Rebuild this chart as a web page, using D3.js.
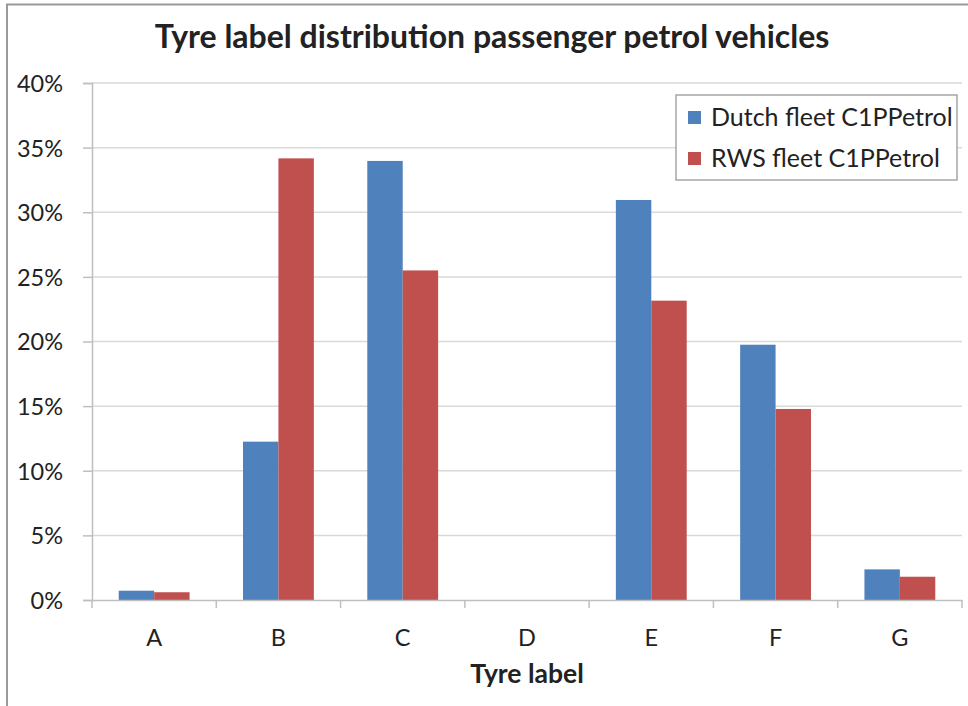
<!DOCTYPE html>
<html>
<head>
<meta charset="utf-8">
<script src="https://cdn.jsdelivr.net/npm/d3@7"></script>
<style>
  body { margin: 0; background: #fff; }
  text { font-family: Lato, "Open Sans", sans-serif; fill: #222; }
</style>
</head>
<body>
<svg id="chart" width="968" height="706"></svg>
<script>
// tyre label categories and the two fleets (share, %)
var categories = ["A", "B", "C", "D", "E", "F", "G"];
var dutch_fleet = [0.72, 12.25, 33.97, 0, 30.95, 19.75, 2.37];
var rws_fleet = [0.6, 34.17, 25.5, 0, 23.16, 14.78, 1.8];
var series_names = ["Dutch fleet C1PPetrol", "RWS fleet C1PPetrol"];
var series_colors = ["#4f81bd", "#c0504d"];
var y_ticks = [0, 5, 10, 15, 20, 25, 30, 35, 40];

var svg = d3.select("#chart");
var margin = {left: 92, right: 6, top: 83, bottom: 106};
var W = 968, H = 706;

// outer frame (cut off on the right and bottom like the picture)
svg.append("path")
  .attr("d", "M7,706 V4.5 H968")
  .attr("fill", "none").attr("stroke", "#9a9a9a").attr("stroke-width", 2);

var x0 = d3.scaleBand().domain(categories)
  .range([margin.left, W - margin.right]).padding(0);
var x1 = d3.scaleBand().domain([0, 1])
  .range([x0.bandwidth() * 0.215, x0.bandwidth() * 0.785]).padding(0);
var y = d3.scaleLinear().domain([0, 40]).range([H - margin.bottom, margin.top]);

// gridlines
svg.append("g").selectAll("line").data(y_ticks.slice(1)).enter().append("line")
  .attr("x1", margin.left).attr("x2", W - margin.right)
  .attr("y1", function (d) { return y(d); }).attr("y2", function (d) { return y(d); })
  .attr("stroke", "#d9d9d9").attr("stroke-width", 1.5);

// y axis
var yAxis = svg.append("g").attr("transform", "translate(" + margin.left + ",0)")
  .call(d3.axisLeft(y).tickValues(y_ticks).tickSize(9).tickPadding(20)
    .tickFormat(function (d) { return d + "%"; }));
yAxis.select(".domain").attr("stroke", "#bfbfbf").attr("stroke-width", 1.5);
yAxis.selectAll(".tick line").attr("stroke", "#bfbfbf").attr("stroke-width", 1.5);
yAxis.selectAll(".tick text").style("font-size", "23.5px").attr("dy", "0.36em").style("fill", "#222");

// bars
var groups = svg.append("g").selectAll("g").data(categories).enter().append("g")
  .attr("transform", function (d) { return "translate(" + x0(d) + ",0)"; });
groups.selectAll("rect")
  .data(function (d, i) { return [dutch_fleet[i], rws_fleet[i]]; })
  .enter().append("rect")
  .attr("x", function (d, j) { return x1(j); })
  .attr("width", x1.bandwidth())
  .attr("y", function (d) { return y(d); })
  .attr("height", function (d) { return y(0) - y(d); })
  .attr("fill", function (d, j) { return series_colors[j]; });

// x axis
var xAxis = svg.append("g").attr("transform", "translate(0," + y(0) + ")")
  .call(d3.axisBottom(x0).tickSize(0).tickPadding(29));
xAxis.select(".domain").attr("stroke", "#bfbfbf").attr("stroke-width", 1.5);
xAxis.selectAll(".tick text").style("font-size", "23.5px").style("fill", "#222");
// category separators
var seps = d3.range(categories.length + 1).map(function (i) { return margin.left + i * x0.step(); });
xAxis.selectAll(".sep").data(seps).enter().append("line")
  .attr("x1", function (d) { return d; }).attr("x2", function (d) { return d; })
  .attr("y1", 0).attr("y2", 8)
  .attr("stroke", "#bfbfbf").attr("stroke-width", 1.5);

// titles
svg.append("text").attr("x", 492).attr("y", 48).attr("text-anchor", "middle")
  .style("font-size", "32px").style("font-weight", "bold").text("Tyre label distribution passenger petrol vehicles");
svg.append("text").attr("x", (margin.left + W - margin.right) / 2).attr("y", 683)
  .attr("text-anchor", "middle").style("font-size", "26.5px").style("font-weight", "bold").text("Tyre label");

// legend
var legend = svg.append("g").attr("transform", "translate(676,95)");
legend.append("rect").attr("width", 281).attr("height", 85)
  .attr("fill", "#fff").attr("stroke", "#a6a6a6").attr("stroke-width", 1.5);
var items = legend.selectAll(".item").data(series_names).enter().append("g")
  .attr("transform", function (d, i) { return "translate(0," + (22.5 + i * 41) + ")"; });
items.append("rect").attr("x", 12).attr("y", -6.5).attr("width", 13).attr("height", 13)
  .attr("fill", function (d, i) { return series_colors[i]; });
items.append("text").attr("x", 35).attr("y", 8).style("font-size", "25px").text(function (d) { return d; });
</script>
</body>
</html>
